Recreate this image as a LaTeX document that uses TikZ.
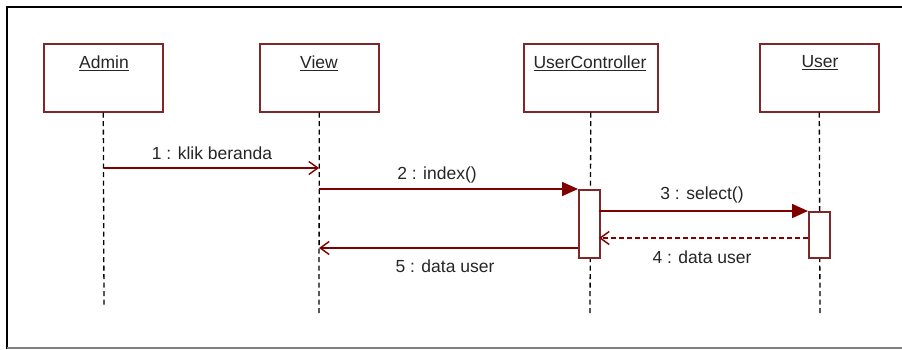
\documentclass[tikz,border=0pt]{standalone}
\usepackage{fontspec}
\setmainfont{Liberation Sans}
\usetikzlibrary{arrows.meta,calc}
\definecolor{boxred}{RGB}{128,40,40}
\definecolor{msgred}{RGB}{128,0,0}
\begin{document}
\begin{tikzpicture}[x=1pt,y=-1pt,
  every node/.style={font=\fontsize{17.5}{20}\selectfont, text=black!85},
  obj/.style={draw=boxred, line width=1.6pt, fill=white, minimum width=119pt, minimum height=68pt, anchor=north west, inner sep=0pt},
  life/.style={draw=black, line width=1.3pt, dash pattern=on 5pt off 3.5pt},
  act/.style={draw=boxred, line width=1.5pt, fill=white},
  call/.style={draw=msgred, line width=1.6pt, -{Triangle[length=16pt,width=14pt]}},
  ret/.style={draw=msgred, line width=1.6pt, -{Straight Barb[length=9pt,width=13pt,line width=1.4pt]}},
  retd/.style={ret, dash pattern=on 5pt off 3pt},
  lbl/.style={inner sep=0pt}
]
\useasboundingbox (0,0) rectangle (902,349);
\fill[white] (0,0) rectangle (902,349);
% frame
\draw[black, line width=2.2pt] (7,349) -- (7,7) -- (902,7);
\draw[gray, line width=1.5pt] (7,348) -- (902,348);

% objects
\node[obj] (admin) at (43,43) {};
\node[obj] (view) at (259,43) {};
\node[obj, minimum width=134pt] (uc) at (523,43) {};
\node[obj] (user) at (759,43) {};
\node[lbl] at (104,63) {\underline{Admin}};
\node[lbl] at (319,63) {\underline{View}};
\node[lbl] at (590,63) {\underline{UserController}};
\node[lbl] at (820,63) {\underline{User}};

% lifelines
\coordinate (aEnd) at (104,305);
\coordinate (vEnd) at (319,313);
\coordinate (uEnd) at (590,313);
\coordinate (sEnd) at (820,313);
\draw[life] (admin.south) -- (aEnd);
\draw[life] (view.south) -- (vEnd);
\draw[life] (uc.south) -- (uEnd);
\draw[life] (user.south) -- (sEnd);

% activations
\node[act, minimum width=21pt, minimum height=68pt, inner sep=0pt, anchor=north west] (ucact) at (578,189) {};
\node[act, minimum width=21pt, minimum height=46pt, inner sep=0pt, anchor=north west] (useract) at (808,211) {};

% messages
\coordinate (m1s) at (104,168);
\coordinate (m1e) at (319,168);
\draw[ret] (m1s) -- (m1e);
\node[lbl] at (212,153) {1 : klik beranda};

\coordinate (m2s) at (319,189);
\draw[call] (m2s) -- (ucact.north west);
\node[lbl] at (437,175) {2 : index()};

\coordinate (m3s) at (599,211);
\draw[call] (m3s) -- (useract.north west);
\node[lbl] at (702,195) {3 : select()};

\coordinate (m4s) at (808,238);
\coordinate (m4e) at (599,238);
\draw[retd] (m4s) -- (m4e);
\node[lbl] at (702,257) {4 : data user};

\coordinate (m5s) at (578,248);
\coordinate (m5e) at (319,248);
\draw[ret] (m5s) -- (m5e);
\node[lbl] at (445,266) {5 : data user};
\end{tikzpicture}
\end{document}
